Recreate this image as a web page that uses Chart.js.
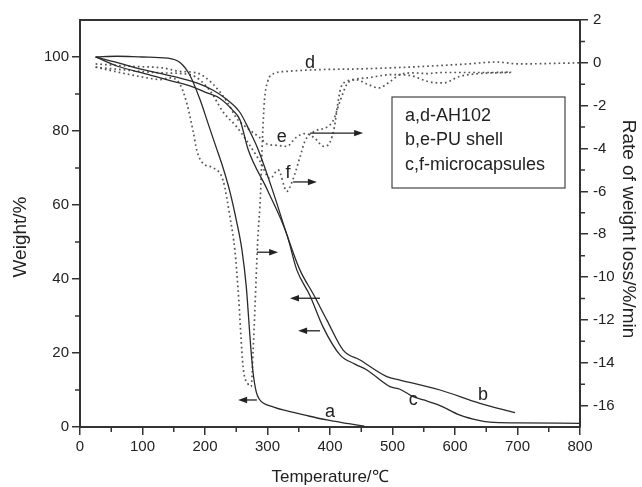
<!DOCTYPE html>
<html>
<head>
<meta charset="utf-8">
<script src="https://cdn.jsdelivr.net/npm/chart.js@4.4.1/dist/chart.umd.min.js"></script>
<style>
html,body{margin:0;padding:0;background:#fff;}
#wrap{width:642px;height:487px;position:relative;}
</style>
</head>
<body>
<div id="wrap"><canvas id="c" width="642" height="487"></canvas></div>
<script>
// ---- Data ----
// TGA curves (left axis, Weight/%)
const tempA   = [25, 60, 100, 140, 160, 176, 192, 205, 218, 229, 240, 250, 259, 266, 270, 273, 277, 282, 287, 293, 310, 325, 360, 395, 430, 455];
const weightA = [100, 100.2, 100, 99.7, 98.5, 95, 88.5, 82, 75.5, 70, 63.5, 56, 48, 38, 29, 22, 14.6, 9.5, 7.5, 6.5, 5.4, 4.6, 3.2, 1.9, 0.9, 0.2];

const tempB   = [25, 60, 91, 130, 160, 190, 213, 235, 256, 270, 285, 310, 331, 352, 373, 395, 421, 448, 491, 512, 576, 640, 696];
const weightB = [100, 98.5, 97, 95.5, 94.3, 92.8, 91, 88.5, 85, 80.5, 75, 63, 52, 42.4, 36, 28.9, 20.8, 18.1, 13.6, 12.7, 10, 6.4, 3.9];

const tempC   = [25, 60, 107, 140, 176, 200, 224, 245, 256, 269, 300, 331, 347, 368, 389, 416, 440, 459, 496, 512, 533, 550, 576, 608, 640, 656, 700, 800];
const weightC = [100, 97.5, 95.4, 93.8, 92.2, 90.5, 88.8, 85.5, 83, 75, 64, 52, 42.4, 35.5, 27, 19.5, 17, 15.4, 10.9, 10.2, 8.2, 7.3, 5.8, 3.2, 1.7, 1.3, 1.1, 1.0];

// DTG curves (right axis, Rate of weight loss/%/min)
const tempD = [25, 43, 80, 107, 128, 144, 160, 171, 181, 187, 197, 213, 229, 240, 248, 253, 261, 269, 274, 277, 280, 284, 289, 292, 295, 300, 310, 330, 380, 450, 555, 620, 667, 700, 800];
const rateD = [-0.2, -0.32, -0.55, -0.7, -0.78, -0.7, -1.0, -1.9, -3.2, -4.1, -4.7, -4.9, -5.5, -7.2, -8.8, -10.6, -14.2, -15.0, -15.1, -13.4, -11.4, -8.5, -6, -3.5, -1.8, -0.9, -0.5, -0.4, -0.32, -0.28, -0.16, -0.05, 0.04, -0.05, 0];

const tempE = [25, 80, 133, 160, 187, 213, 235, 251, 270, 288, 300, 315, 331, 345, 360, 375, 390, 400, 407, 412, 417, 427, 440, 460, 478, 495, 512, 533, 555, 580, 620, 660, 690];
const rateE = [-0.05, -0.16, -0.24, -0.4, -0.47, -1.0, -1.8, -2.6, -3.1, -3.5, -3.8, -3.85, -3.9, -3.5, -3.3, -3.5, -3.9, -3.7, -3.0, -2.0, -1.2, -0.86, -0.78, -1.0, -1.17, -0.9, -0.55, -0.47, -0.5, -0.45, -0.45, -0.45, -0.43];

const tempF = [25, 60, 133, 176, 208, 229, 251, 267, 288, 304, 317, 331, 340, 352, 360, 375, 395, 405, 416, 427, 437, 460, 500, 530, 555, 581, 608, 640, 690];
const rateF = [-0.2, -0.3, -0.47, -0.55, -1.3, -2.3, -3.0, -3.65, -4.6, -5.4, -5.0, -6.0, -5.5, -4.4, -3.65, -3.2, -3.0, -2.7, -1.8, -1.0, -0.8, -0.7, -0.55, -0.6, -0.86, -0.94, -0.63, -0.5, -0.45];

// Tick labels
const xTickLabels      = [0, 100, 200, 300, 400, 500, 600, 700, 800];
const weightTickLabels = [0, 20, 40, 60, 80, 100];
const rateTickLabels   = [-16, -14, -12, -10, -8, -6, -4, -2, 0, 2];

// Legend text
const legendLines = ['a,d-AH102', 'b,e-PU shell', 'c,f-microcapsules'];

// Curve labels (data coordinates)
const curveLabels = [
  {text: 'a', x: 400, y: 4.1,   axis: 'y'},
  {text: 'b', x: 645, y: 8.6,   axis: 'y'},
  {text: 'c', x: 533, y: 7.3,   axis: 'y'},
  {text: 'd', x: 368, y: 0.0,   axis: 'y2'},
  {text: 'e', x: 323, y: -3.47, axis: 'y2'},
  {text: 'f', x: 333, y: -5.13, axis: 'y2'}
];
// Arrows: from tail to head (data coordinates)
const arrows = [
  {x0: 368, x1: 453, y: -3.28, axis: 'y2'},
  {x0: 341, x1: 379, y: -5.56, axis: 'y2'},
  {x0: 283, x1: 317, y: -8.84, axis: 'y2'},
  {x0: 384, x1: 336, y: 34.8,  axis: 'y'},
  {x0: 384, x1: 349, y: 26.0,  axis: 'y'},
  {x0: 283, x1: 253, y: 7.3,   axis: 'y'}
];

// ---- Styling ----
const FONT = '"Liberation Sans", Arial, Helvetica, sans-serif';
const INK = '#222';
const AXIS = '#333';
const SOLID = '#2a2a2a';
const DOT = '#555';

function xy(xs, ys) { return xs.map((x, i) => ({x: x, y: ys[i]})); }

function solidSet(label, xs, ys) {
  return {label, data: xy(xs, ys), yAxisID: 'y', borderColor: SOLID, borderWidth: 1.3,
    pointRadius: 0, fill: false, cubicInterpolationMode: 'monotone'};
}
function dotSet(label, xs, ys) {
  return {label, data: xy(xs, ys), yAxisID: 'y2', borderColor: DOT, borderWidth: 1.7,
    borderDash: [1.7, 3], borderCapStyle: 'butt', pointRadius: 0, fill: false, cubicInterpolationMode: 'monotone'};
}

const extras = {
  id: 'extras',
  afterDraw(chart) {
    const c = chart.ctx, ca = chart.chartArea;
    const sx = chart.scales.x, sy = chart.scales.y, sy2 = chart.scales.y2;
    c.save();
    // top frame line
    c.strokeStyle = AXIS; c.lineWidth = 2;
    c.beginPath(); c.moveTo(ca.left - 1, ca.top); c.lineTo(ca.right + 1, ca.top); c.stroke();
    // minor ticks
    c.lineWidth = 1.5;
    c.beginPath();
    sx.ticks.forEach(t => {
      if (!xTickLabels.includes(t.value)) {
        const p = sx.getPixelForValue(t.value);
        c.moveTo(p, ca.bottom); c.lineTo(p, ca.bottom + 5);
      }
    });
    sy.ticks.forEach(t => {
      if (!weightTickLabels.includes(t.value) && t.value > sy.min && t.value < sy.max) {
        const p = sy.getPixelForValue(t.value);
        c.moveTo(ca.left, p); c.lineTo(ca.left - 5, p);
      }
    });
    sy2.ticks.forEach(t => {
      if (!rateTickLabels.includes(t.value) && t.value > sy2.min && t.value < sy2.max) {
        const p = sy2.getPixelForValue(t.value);
        c.moveTo(ca.right, p); c.lineTo(ca.right + 5, p);
      }
    });
    c.stroke();

    // vertical axis titles
    c.fillStyle = INK;
    c.font = '19px ' + FONT;
    c.textAlign = 'center'; c.textBaseline = 'middle';
    c.save(); c.translate(20.5, ca.top + 217); c.rotate(-Math.PI / 2); c.fillText('Weight/%', 0, 0); c.restore();
    c.save(); c.translate(628, ca.top + 209); c.rotate(Math.PI / 2); c.fillText('Rate of weight loss/%/min', 0, 0); c.restore();

    // curve labels
    c.font = '18px ' + FONT;
    curveLabels.forEach(l => {
      const s = l.axis === 'y' ? sy : sy2;
      c.fillText(l.text, sx.getPixelForValue(l.x), s.getPixelForValue(l.y));
    });

    // arrows
    c.strokeStyle = INK; c.lineWidth = 1.3;
    arrows.forEach(a => {
      const s = a.axis === 'y' ? sy : sy2;
      const x0 = sx.getPixelForValue(a.x0), x1 = sx.getPixelForValue(a.x1), y = s.getPixelForValue(a.y);
      const dir = x1 > x0 ? 1 : -1;
      c.beginPath(); c.moveTo(x0, y); c.lineTo(x1 - dir * 6, y); c.stroke();
      c.beginPath(); c.moveTo(x1, y); c.lineTo(x1 - dir * 9, y - 3.2); c.lineTo(x1 - dir * 9, y + 3.2); c.closePath(); c.fill();
    });

    // legend box
    const bx = ca.left + 312, by = ca.top + 77, bw = 173, bh = 91;
    c.lineWidth = 1.2; c.strokeStyle = '#444';
    c.strokeRect(bx, by, bw, bh);
    c.font = '18px ' + FONT;
    c.textAlign = 'left'; c.textBaseline = 'middle';
    legendLines.forEach((t, i) => c.fillText(t, bx + 13, by + 19 + i * 24.5));
    c.restore();
  }
};

new Chart(document.getElementById('c'), {
  type: 'line',
  data: {
    datasets: [
      solidSet('a', tempA, weightA),
      solidSet('b', tempB, weightB),
      solidSet('c', tempC, weightC),
      dotSet('d', tempD, rateD),
      dotSet('e', tempE, rateE),
      dotSet('f', tempF, rateF)
    ]
  },
  options: {
    responsive: false,
    animation: false,
    devicePixelRatio: 1,
    layout: {padding: {top: 20, left: 0, right: 0, bottom: 0}},
    plugins: {legend: {display: false}, tooltip: {enabled: false}},
    scales: {
      x: {
        type: 'linear', position: 'bottom', min: 0, max: 800,
        ticks: {stepSize: 50, autoSkip: false, maxRotation: 0, padding: 3, color: INK,
          font: {family: FONT, size: 15},
          callback: v => xTickLabels.includes(v) ? String(v) : ''},
        grid: {drawOnChartArea: false, drawTicks: true, tickLength: 8, lineWidth: 1.5,
          color: ctx => (ctx.tick && xTickLabels.includes(ctx.tick.value)) ? AXIS : 'rgba(0,0,0,0)'},
        border: {display: true, color: AXIS, width: 2},
        title: {display: true, text: 'Temperature/℃', color: INK, font: {family: FONT, size: 17},
          padding: {top: 0, bottom: -1}},
        afterFit: s => { s.height = 60; }
      },
      y: {
        type: 'linear', position: 'left', min: 0, max: 110,
        ticks: {stepSize: 10, autoSkip: false, padding: 3, color: INK,
          font: {family: FONT, size: 15},
          callback: v => weightTickLabels.includes(v) ? String(v) : ''},
        grid: {drawOnChartArea: false, drawTicks: true, tickLength: 8, lineWidth: 1.5,
          color: ctx => (ctx.tick && weightTickLabels.includes(ctx.tick.value)) ? AXIS : 'rgba(0,0,0,0)'},
        border: {display: true, color: AXIS, width: 2},
        title: {display: false},
        afterFit: s => { s.width = 80; }
      },
      y2: {
        type: 'linear', position: 'right', min: -17, max: 2,
        ticks: {stepSize: 1, autoSkip: false, padding: 5, color: INK,
          font: {family: FONT, size: 15},
          callback: v => rateTickLabels.includes(v) ? String(v) : ''},
        grid: {drawOnChartArea: false, drawTicks: true, tickLength: 8, lineWidth: 1.5,
          color: ctx => (ctx.tick && rateTickLabels.includes(ctx.tick.value)) ? AXIS : 'rgba(0,0,0,0)'},
        border: {display: true, color: AXIS, width: 2},
        title: {display: false},
        afterFit: s => { s.width = 62; }
      }
    }
  },
  plugins: [extras]
});
</script>
</body>
</html>
